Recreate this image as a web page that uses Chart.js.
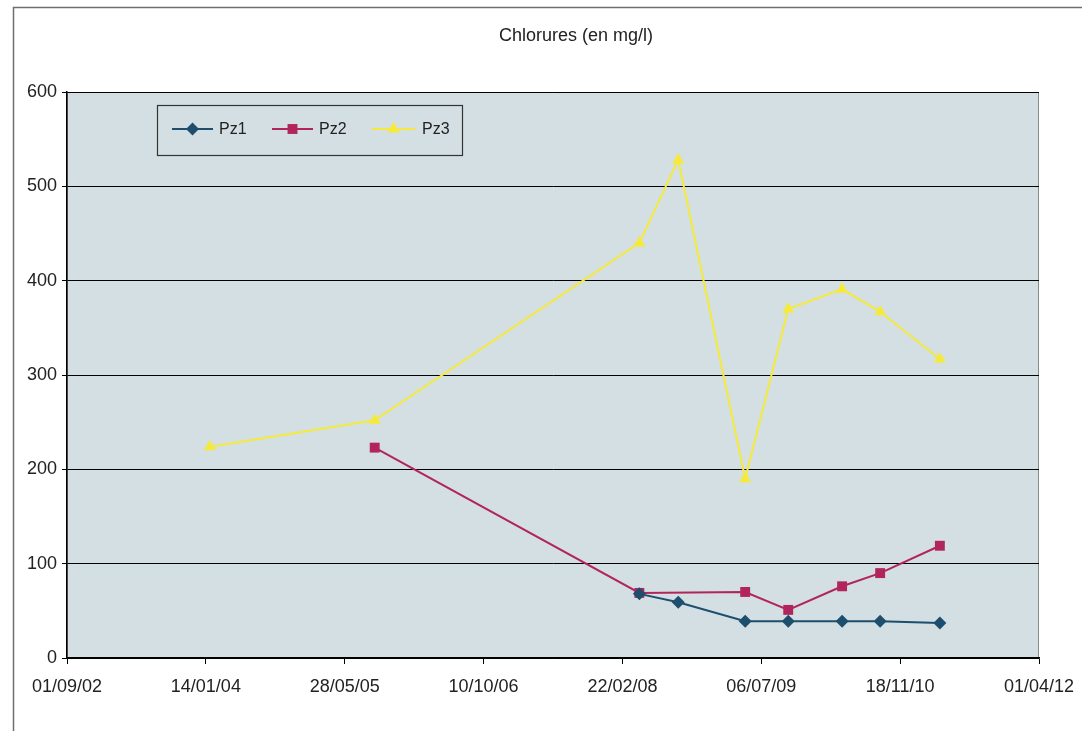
<!DOCTYPE html>
<html>
<head>
<meta charset="utf-8">
<script src="https://cdn.jsdelivr.net/npm/chart.js@4.4.1/dist/chart.umd.min.js"></script>
<style>
  html, body { margin: 0; padding: 0; background: #ffffff; }
  #wrap { position: relative; width: 1082px; height: 731px; }
  canvas { display: block; }
</style>
</head>
<body>
<div id="wrap"><canvas id="c" width="1082" height="731"></canvas></div>
<script>
// ---- data ----
const chartTitle = 'Chlorures (en mg/l)';
const sampleDates = ['2004-01-28', '2005-09-13', '2008-04-23', '2008-09-10', '2009-05-09', '2009-10-11', '2010-04-23', '2010-09-07', '2011-04-10'];
const pz1Values = [null, null, 68, 59, 39, 39, 39, 39, 37];
const pz2Values = [null, 223, 69, null, 70, 51, 76, 90, 119];
const pz3Values = [224, 252, 440, 528, 190, 370, 391, 367, 317];
const seriesNames = ['Pz1', 'Pz2', 'Pz3'];
const axisStartDate = '2002-09-01';
const axisEndDate = '2012-04-01';
const xStepDays = 500;
const yTicks = [0, 100, 200, 300, 400, 500, 600];

// ---- helpers ----
const DAY = 86400000;
function toDay(s) {
  const p = s.split('-').map(Number);
  return Date.UTC(p[0], p[1] - 1, p[2]) / DAY;
}
const baseDay = toDay(axisStartDate);
function offset(s) { return toDay(s) - baseDay; }
function fmt(v) {
  const d = new Date((baseDay + v) * DAY);
  const dd = String(d.getUTCDate()).padStart(2, '0');
  const mm = String(d.getUTCMonth() + 1).padStart(2, '0');
  const yy = String(d.getUTCFullYear() % 100).padStart(2, '0');
  return dd + '/' + mm + '/' + yy;
}
function points(vals) {
  return sampleDates.map((d, i) => ({ x: offset(d), y: vals[i] }));
}

const colors = ['#1d4e6e', '#b2255c', '#f5ea3c'];
const styles = ['rectRot', 'rect', 'triangle'];
const radii = [6.5, 7, 7];
const FONT = '"Liberation Sans", Arial, sans-serif';

function drawMarker(ctx, style, x, y, r, color) {
  ctx.save();
  ctx.fillStyle = color;
  ctx.beginPath();
  if (style === 'rectRot') {
    ctx.moveTo(x, y - r); ctx.lineTo(x + r, y); ctx.lineTo(x, y + r); ctx.lineTo(x - r, y);
  } else if (style === 'rect') {
    const h = r * Math.SQRT1_2;
    ctx.rect(x - h, y - h, 2 * h, 2 * h);
  } else {
    const side = 3 * r / Math.sqrt(3);
    const height = side * Math.sqrt(3) / 2;
    ctx.moveTo(x - side / 2, y + height / 3);
    ctx.lineTo(x + side / 2, y + height / 3);
    ctx.lineTo(x, y - 2 * height / 3);
  }
  ctx.closePath();
  ctx.fill();
  ctx.restore();
}

const framePlugin = {
  id: 'frame',
  beforeDraw(chart) {
    const ctx = chart.ctx;
    const a = chart.chartArea;
    ctx.save();
    ctx.fillStyle = '#ffffff';
    ctx.fillRect(0, 0, chart.width, chart.height);
    // outer frame (left + top visible)
    ctx.strokeStyle = '#6f6f6f';
    ctx.lineWidth = 1.5;
    ctx.beginPath();
    ctx.moveTo(13.5, chart.height);
    ctx.lineTo(13.5, 7.5);
    ctx.lineTo(chart.width, 7.5);
    ctx.stroke();
    // plot background
    ctx.fillStyle = '#d3dfe3';
    ctx.fillRect(a.left, a.top, a.right - a.left, a.bottom - a.top);
    // plot border (gray)
    ctx.strokeStyle = '#8a8a8a';
    ctx.lineWidth = 1;
    ctx.strokeRect(a.left + 0.5, a.top + 0.5, a.right - a.left - 1, a.bottom - a.top - 1);
    // title
    ctx.fillStyle = '#222222';
    ctx.font = '18px ' + FONT;
    ctx.textAlign = 'center';
    ctx.textBaseline = 'middle';
    ctx.fillText(chartTitle, 576, 36);
    ctx.restore();
  },
  afterDraw(chart) {
    const ctx = chart.ctx;
    ctx.save();
    // legend box
    const bx = 157, by = 105, bw = 305, bh = 50;
    ctx.fillStyle = '#d3dfe3';
    ctx.fillRect(bx, by, bw, bh);
    ctx.strokeStyle = '#333333';
    ctx.lineWidth = 1.2;
    ctx.strokeRect(bx + 0.5, by + 0.5, bw, bh);
    const items = [
      { x0: 172, x1: 213, tx: 219 },
      { x0: 272, x1: 313, tx: 319 },
      { x0: 372, x1: 415, tx: 422 }
    ];
    const cy = 129;
    ctx.font = '16px ' + FONT;
    ctx.textAlign = 'left';
    ctx.textBaseline = 'middle';
    chart.data.datasets.forEach((ds, i) => {
      const it = items[i];
      ctx.strokeStyle = ds.borderColor;
      ctx.lineWidth = 2;
      ctx.beginPath();
      ctx.moveTo(it.x0, cy);
      ctx.lineTo(it.x1, cy);
      ctx.stroke();
      drawMarker(ctx, styles[i], (it.x0 + it.x1) / 2, cy, radii[i], colors[i]);
      ctx.fillStyle = '#222222';
      ctx.fillText(ds.label, it.tx, cy + 1);
    });
    ctx.restore();
  }
};

const allVals = [pz1Values, pz2Values, pz3Values];

new Chart(document.getElementById('c'), {
  type: 'line',
  data: {
    datasets: allVals.map((vals, i) => ({
      label: seriesNames[i],
      data: points(vals),
      borderColor: colors[i],
      backgroundColor: colors[i],
      borderWidth: 2,
      pointStyle: styles[i],
      pointRadius: radii[i],
      pointHoverRadius: radii[i],
      pointBorderWidth: 0,
      spanGaps: true,
      tension: 0,
      fill: false
    }))
  },
  options: {
    responsive: false,
    animation: false,
    events: [],
    layout: { padding: { top: 92, right: 43, left: 0, bottom: 0 } },
    plugins: {
      legend: { display: false },
      title: { display: false },
      tooltip: { enabled: false }
    },
    scales: {
      x: {
        type: 'linear',
        min: 0,
        max: offset(axisEndDate),
        afterFit(scale) {
          scale.height = 73;
          scale.paddingLeft = 0;
          scale.paddingRight = 0;
        },
        grid: {
          drawOnChartArea: false,
          drawTicks: true,
          tickLength: 6,
          color: '#000000',
          lineWidth: 1
        },
        border: { display: true, color: '#000000', width: 1.5 },
        ticks: {
          stepSize: xStepDays,
          autoSkip: false,
          maxRotation: 0,
          padding: 12,
          color: '#222222',
          font: { family: FONT, size: 18 },
          callback: (v) => fmt(v)
        }
      },
      y: {
        min: yTicks[0],
        max: yTicks[yTicks.length - 1],
        afterFit(scale) { scale.width = 67; },
        afterBuildTicks(scale) { scale.ticks = yTicks.map(v => ({ value: v })); },
        grid: {
          color: '#000000',
          lineWidth: 1,
          drawTicks: true,
          tickLength: 5
        },
        border: { display: true, color: '#000000', width: 1.5 },
        ticks: {
          padding: 5,
          color: '#222222',
          font: { family: FONT, size: 18 }
        }
      }
    }
  },
  plugins: [framePlugin]
});
</script>
</body>
</html>
